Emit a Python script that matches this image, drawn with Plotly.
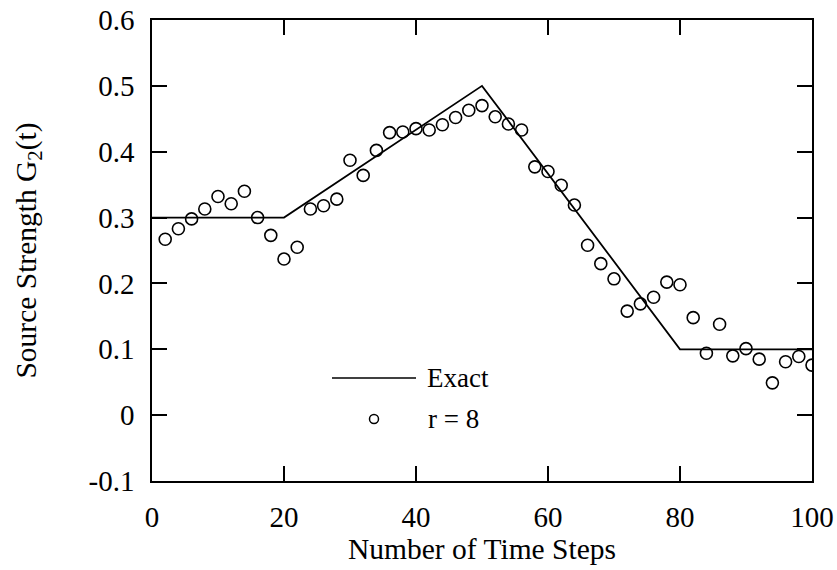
import plotly.graph_objects as go

# Exact solution (piecewise linear)
exact_x = [0, 20, 50, 80, 100]
exact_y = [0.3, 0.3, 0.5, 0.1, 0.1]

# Estimated values, r = 8
est_x = [2, 4, 6, 8, 10, 12, 14, 16, 18, 20,
         22, 24, 26, 28, 30, 32, 34, 36, 38, 40,
         42, 44, 46, 48, 50, 52, 54, 56, 58, 60,
         62, 64, 66, 68, 70, 72, 74, 76, 78, 80,
         82, 84, 86, 88, 90, 92, 94, 96, 98, 100]
est_y = [0.267, 0.283, 0.298, 0.313, 0.332, 0.321, 0.340, 0.300, 0.273, 0.237,
         0.255, 0.313, 0.318, 0.328, 0.387, 0.364, 0.402, 0.429, 0.430, 0.435,
         0.433, 0.441, 0.452, 0.463, 0.470, 0.453, 0.442, 0.433, 0.377, 0.370,
         0.349, 0.319, 0.258, 0.230, 0.207, 0.158, 0.169, 0.179, 0.202, 0.198,
         0.148, 0.094, 0.138, 0.090, 0.101, 0.085, 0.049, 0.081, 0.089, 0.076]

x_ticks = [0, 20, 40, 60, 80, 100]
y_ticks = [-0.1, 0, 0.1, 0.2, 0.3, 0.4, 0.5, 0.6]
y_tick_labels = ["-0.1", "0", "0.1", "0.2", "0.3", "0.4", "0.5", "0.6"]

FONT = "Liberation Serif, Times New Roman, serif"

# plot box at x 152..812, y 20..481 of the 837x570 page
L, T, PW, PH = 152, 20, 660, 461

def px(x):
    return (x - L) / PW

def py(y):
    return (T + PH - y) / PH

fig = go.Figure()
fig.add_trace(go.Scatter(x=exact_x, y=exact_y, mode="lines", name="Exact",
                         line=dict(color="black", width=1.8), showlegend=False))
fig.add_trace(go.Scatter(x=est_x, y=est_y, mode="markers", name="r = 8",
                         marker=dict(symbol="circle-open", size=12, color="black",
                                     line=dict(width=1.6, color="black")),
                         showlegend=False))

# Legend drawn manually (line sample + small circle)
fig.add_shape(type="line", xref="paper", yref="paper",
              x0=px(332), x1=px(416), y0=py(378), y1=py(378),
              line=dict(color="black", width=1.5))
cx, cy, r = 374, 419, 4.5
fig.add_shape(type="circle", xref="paper", yref="paper",
              x0=px(cx - r), x1=px(cx + r), y0=py(cy + r), y1=py(cy - r),
              line=dict(color="black", width=1.5))
fig.add_annotation(text="Exact", xref="paper", yref="paper",
                   x=px(425), y=py(378),
                   xanchor="left", yanchor="middle", showarrow=False,
                   font=dict(family=FONT, size=27, color="black"))
fig.add_annotation(text="r = 8", xref="paper", yref="paper",
                   x=px(426), y=py(419),
                   xanchor="left", yanchor="middle", showarrow=False,
                   font=dict(family=FONT, size=27, color="black"))

axis_common = dict(showgrid=False, zeroline=False, showline=True, linecolor="black",
                   linewidth=1.5, mirror="ticks", ticks="inside", ticklen=15,
                   tickwidth=1.5, tickcolor="black", automargin=False,
                   ticklabeloverflow="allow",
                   tickfont=dict(family=FONT, size=29, color="black"))

fig.update_xaxes(range=[0, 100], tickvals=x_ticks,
                 title=dict(text="Number of Time Steps",
                            font=dict(family=FONT, size=29.5, color="black"), standoff=3),
                 ticklabelstandoff=9, **axis_common)
fig.update_yaxes(range=[-0.1, 0.6], tickvals=y_ticks, ticktext=y_tick_labels,
                 title=dict(text="Source Strength G<sub>2</sub>(t)",
                            font=dict(family=FONT, size=29.5, color="black"), standoff=43),
                 ticklabelstandoff=10, **axis_common)

fig.update_layout(width=837, height=570,
                  plot_bgcolor="white", paper_bgcolor="white",
                  margin=dict(l=L, r=837 - L - PW, t=T, b=570 - T - PH), showlegend=False)

fig.write_html("out.html", config={"displayModeBar": False},
               post_script="document.body.style.margin='0';document.body.style.overflow='hidden';")
